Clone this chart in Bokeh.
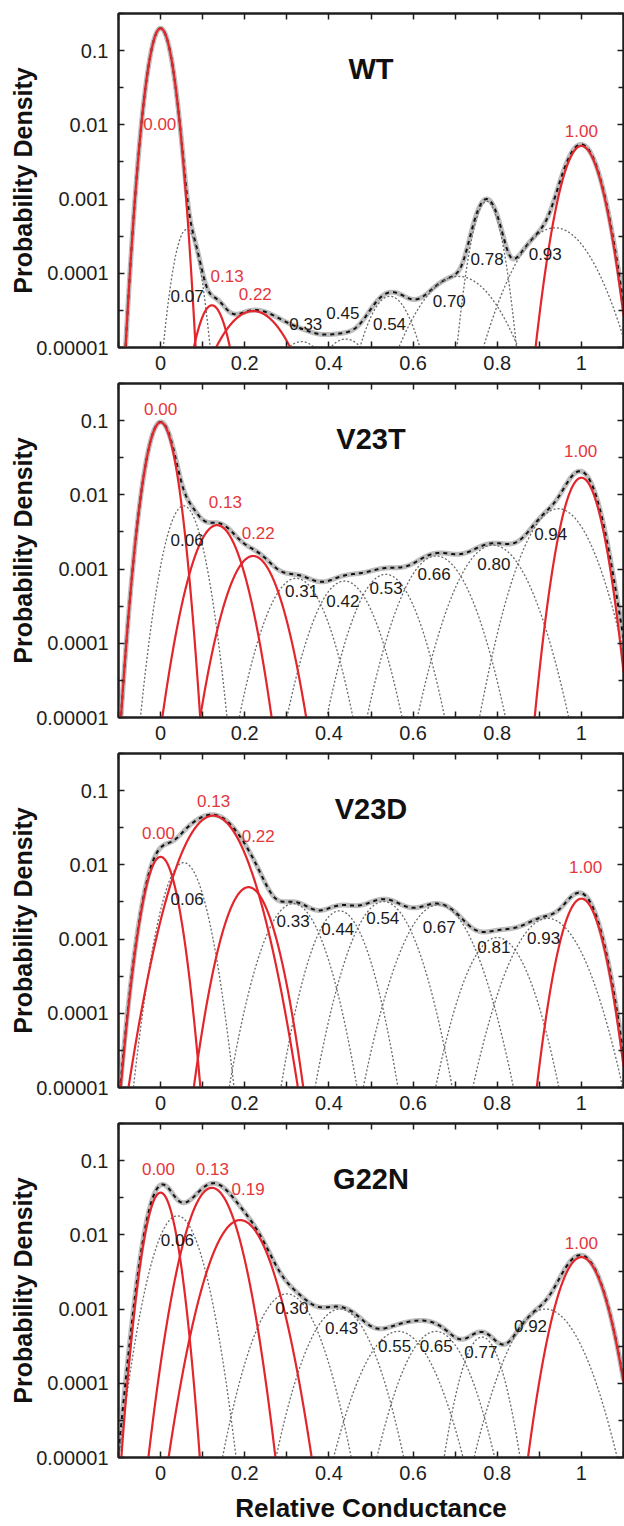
import numpy as np
from bokeh.plotting import figure
from bokeh.models import (ColumnDataSource, FixedTicker, LinearAxis, LogAxis,
                          CustomJSTickFormatter, Range1d)
from bokeh.layouts import column
from bokeh.core.properties import value
from bokeh.embed import file_html
from bokeh.resources import INLINE

# ---------------- data (Gaussian components) ----------------
panel_titles = ["WT", "V23T", "V23D", "G22N"]

wt_labels = ["0.00", "0.07", "0.13", "0.22", "0.33", "0.45", "0.54", "0.70", "0.78", "0.93", "1.00"]
wt_red = [1, 0, 1, 1, 0, 0, 0, 0, 0, 0, 1]
wt_center = [0.0, 0.062, 0.122, 0.22, 0.335, 0.44, 0.545, 0.708, 0.775, 0.937, 1.0]
wt_peak = [0.2, 3.9e-4, 3.7e-5, 3.1e-5, 1.2e-5, 1.3e-5, 4.9e-5, 9.1e-5, 9.3e-4, 4.1e-4, 5.2e-3]
wt_sigma = [0.0187, 0.0206, 0.0265, 0.0586, 0.05, 0.05, 0.040, 0.0675, 0.0235, 0.0624, 0.0308]

v23t_labels = ["0.00", "0.06", "0.13", "0.22", "0.31", "0.42", "0.53", "0.66", "0.80", "0.94", "1.00"]
v23t_red = [1, 0, 1, 1, 0, 0, 0, 0, 0, 0, 1]
v23t_center = [0.0, 0.055, 0.134, 0.22, 0.322, 0.437, 0.535, 0.655, 0.79, 0.945, 1.0]
v23t_peak = [0.095, 7.1e-3, 3.9e-3, 1.5e-3, 7.5e-4, 6.9e-4, 8.5e-4, 1.5e-3, 2.1e-3, 6.5e-3, 0.017]
v23t_sigma = [0.022, 0.0284, 0.0376, 0.0398, 0.046, 0.047, 0.047, 0.052, 0.055, 0.052, 0.0288]

v23d_labels = ["0.00", "0.06", "0.13", "0.22", "0.33", "0.44", "0.54", "0.67", "0.81", "0.93", "1.00"]
v23d_red = [1, 0, 1, 1, 0, 0, 0, 0, 0, 0, 1]
v23d_center = [0.0, 0.055, 0.125, 0.209, 0.315, 0.425, 0.53, 0.66, 0.80, 0.92, 1.0]
v23d_peak = [0.0128, 0.0107, 0.046, 5.0e-3, 3.0e-3, 2.4e-3, 3.2e-3, 2.9e-3, 1.05e-3, 1.9e-3, 3.5e-3]
v23d_sigma = [0.025, 0.032, 0.049, 0.0369, 0.045, 0.042, 0.048, 0.053, 0.048, 0.055, 0.031]

g22n_labels = ["0.00", "0.06", "0.13", "0.19", "0.30", "0.43", "0.55", "0.65", "0.77", "0.92", "1.00"]
g22n_red = [1, 0, 1, 1, 0, 0, 0, 0, 0, 0, 1]
g22n_center = [0.0, 0.04, 0.122, 0.189, 0.30, 0.426, 0.565, 0.654, 0.764, 0.915, 1.0]
g22n_peak = [0.037, 0.018, 0.043, 0.0158, 1.6e-3, 1.0e-3, 5.0e-4, 5.0e-4, 4.2e-4, 1.0e-3, 5.0e-3]
g22n_sigma = [0.023, 0.036, 0.0369, 0.0443, 0.048, 0.05, 0.055, 0.05, 0.033, 0.056, 0.036]

# label anchor positions (layout, not data)
wt_lx = [-0.002, 0.063, 0.158, 0.225, 0.345, 0.433, 0.544, 0.686, 0.776, 0.914, 1.0]
wt_ly = [0.0102, 4.9e-5, 9.1e-5, 5.2e-5, 2.1e-5, 2.9e-5, 2.1e-5, 4.2e-5, 1.55e-4, 1.8e-4, 8.3e-3]
v23t_lx = [0.0, 0.063, 0.154, 0.232, 0.335, 0.433, 0.536, 0.65, 0.792, 0.927, 0.998]
v23t_ly = [0.145, 2.45e-3, 8.1e-3, 3.1e-3, 5.0e-4, 3.7e-4, 5.5e-4, 8.5e-4, 1.17e-3, 2.95e-3, 0.039]
v23d_lx = [-0.005, 0.063, 0.126, 0.232, 0.315, 0.421, 0.528, 0.662, 0.792, 0.91, 1.01]
v23d_ly = [0.027, 3.5e-3, 0.072, 0.0245, 1.74e-3, 1.38e-3, 1.9e-3, 1.45e-3, 7.8e-4, 1.02e-3, 9.3e-3]
g22n_lx = [-0.005, 0.04, 0.123, 0.208, 0.312, 0.43, 0.556, 0.655, 0.761, 0.879, 1.0]
g22n_ly = [0.076, 8.5e-3, 0.076, 0.041, 1.02e-3, 5.5e-4, 3.2e-4, 3.2e-4, 2.6e-4, 5.9e-4, 7.8e-3]

x_ticks = [0.0, 0.2, 0.4, 0.6, 0.8, 1.0]
x_minor = [-0.1, 0.1, 0.3, 0.5, 0.7, 0.9, 1.1]
y_ticks = [1e-1, 1e-2, 1e-3, 1e-4, 1e-5]
y_minor = [10 ** -0.5, 10 ** -1.5, 10 ** -2.5, 10 ** -3.5, 10 ** -4.5]

panels = [
    (wt_labels, wt_red, wt_center, wt_peak, wt_sigma, wt_lx, wt_ly),
    (v23t_labels, v23t_red, v23t_center, v23t_peak, v23t_sigma, v23t_lx, v23t_ly),
    (v23d_labels, v23d_red, v23d_center, v23d_peak, v23d_sigma, v23d_lx, v23d_ly),
    (g22n_labels, g22n_red, g22n_center, g22n_peak, g22n_sigma, g22n_lx, g22n_ly),
]

RED = "#e3262c"
RED_TXT = "#e5363c"
FONT = "Liberation Sans"
AX = "#1e1e1e"

xg = np.linspace(-0.1, 1.1, 1441)


def comp(mu, a, s):
    return a * np.exp(-(xg - mu) ** 2 / (2 * s * s))


def clipped(y):
    # keep only the part near / above the plot floor (log axis)
    return np.where(y < 2e-6, np.nan, y)


def style_axis(ax, tick_in, minor_in):
    ax.major_tick_in = tick_in
    ax.major_tick_out = 0
    ax.minor_tick_in = minor_in
    ax.minor_tick_out = 0
    ax.axis_line_color = AX
    ax.axis_line_width = 2
    ax.major_tick_line_color = AX
    ax.minor_tick_line_color = AX
    ax.major_tick_line_width = 1.5
    ax.minor_tick_line_width = 1.5


heights = [377, 370, 370, 409]
tops = [13, 6, 6, 6]
bottoms = [30, 30, 30, 69]
figs = []

for i, (labs, red, cen, pk, sg, lx, ly) in enumerate(panels):
    p = figure(width=624, height=heights[i], y_axis_type="log",
               x_range=Range1d(-0.1, 1.1), y_range=Range1d(1e-5, 10 ** -0.5),
               output_backend="svg", toolbar_location=None,
               min_border_left=118, min_border_right=1,
               min_border_top=tops[i], min_border_bottom=bottoms[i])
    p.grid.visible = False
    p.outline_line_color = AX
    p.outline_line_width = 2

    comps = [comp(m, a, s) for m, a, s in zip(cen, pk, sg)]
    total = np.sum(comps, axis=0)
    tsrc = ColumnDataSource(dict(x=xg, y=clipped(total)))

    p.line("x", "y", source=tsrc, line_color="#bdbdbd", line_width=5)
    p.line("x", "y", source=tsrc, line_color="#111111", line_width=2, line_dash="4 4")

    for c, r in zip(comps, red):
        if not r:
            p.line(xg, clipped(c), line_color="#6a6a6a", line_width=1.3, line_dash="2 2")
    for c, r in zip(comps, red):
        if r:
            p.line(xg, clipped(c), line_color=RED, line_width=2.2)

    src = ColumnDataSource(dict(x=lx, y=ly, t=labs,
                                c=[RED_TXT if r else "#1a1a1a" for r in red]))
    p.text("x", "y", text="t", source=src, text_color="c",
           text_font=value(FONT), text_font_size="17px",
           text_align="center", text_baseline="middle")
    p.text(x=[0.5], y=[10 ** -1.25], text=[panel_titles[i]], text_color="#111111",
           text_font=value(FONT), text_font_size="29px", text_font_style="bold",
           text_align="center", text_baseline="middle")

    xa = p.xaxis[0]
    xa.ticker = FixedTicker(ticks=x_ticks, minor_ticks=x_minor)
    xa.formatter = CustomJSTickFormatter(code="return (Math.round(tick*10)/10).toString();")
    xa.major_label_text_font = FONT
    xa.major_label_text_font_size = "20px"
    xa.major_label_text_color = AX
    xa.major_label_standoff = 8
    style_axis(xa, 6, 6)
    if i == 3:
        xa.axis_label = "Relative Conductance"
        xa.axis_label_text_font = FONT
        xa.axis_label_text_font_size = "26px"
        xa.axis_label_text_font_style = "bold"
        xa.axis_label_text_color = "#111111"
        xa.axis_label_standoff = 10

    ya = p.yaxis[0]
    ya.ticker = FixedTicker(ticks=y_ticks, minor_ticks=y_minor)
    ya.formatter = CustomJSTickFormatter(
        code="return tick.toFixed(Math.max(0, Math.round(-Math.log10(tick))));")
    ya.major_label_text_font = FONT
    ya.major_label_text_font_size = "20px"
    ya.major_label_text_color = AX
    ya.major_label_standoff = 10
    style_axis(ya, 6, 5)
    ya.axis_label = "Probability Density"
    ya.axis_label_text_font = FONT
    ya.axis_label_text_font_size = "25px"
    ya.axis_label_text_font_style = "bold"
    ya.axis_label_text_color = "#111111"
    ya.axis_label_standoff = -4

    ta = LinearAxis(ticker=FixedTicker(ticks=x_ticks, minor_ticks=x_minor),
                    major_label_text_font_size="1px", major_label_text_alpha=0,
                    major_label_standoff=0)
    style_axis(ta, 6, 6)
    p.add_layout(ta, "above")
    ra = LogAxis(ticker=FixedTicker(ticks=y_ticks, minor_ticks=y_minor),
                 major_label_text_font_size="1px", major_label_text_alpha=0,
                 major_label_standoff=0)
    style_axis(ra, 6, 5)
    p.add_layout(ra, "right")
    figs.append(p)

layout = column(*figs, spacing=0)
open("out.html", "w").write(file_html(layout, INLINE))
